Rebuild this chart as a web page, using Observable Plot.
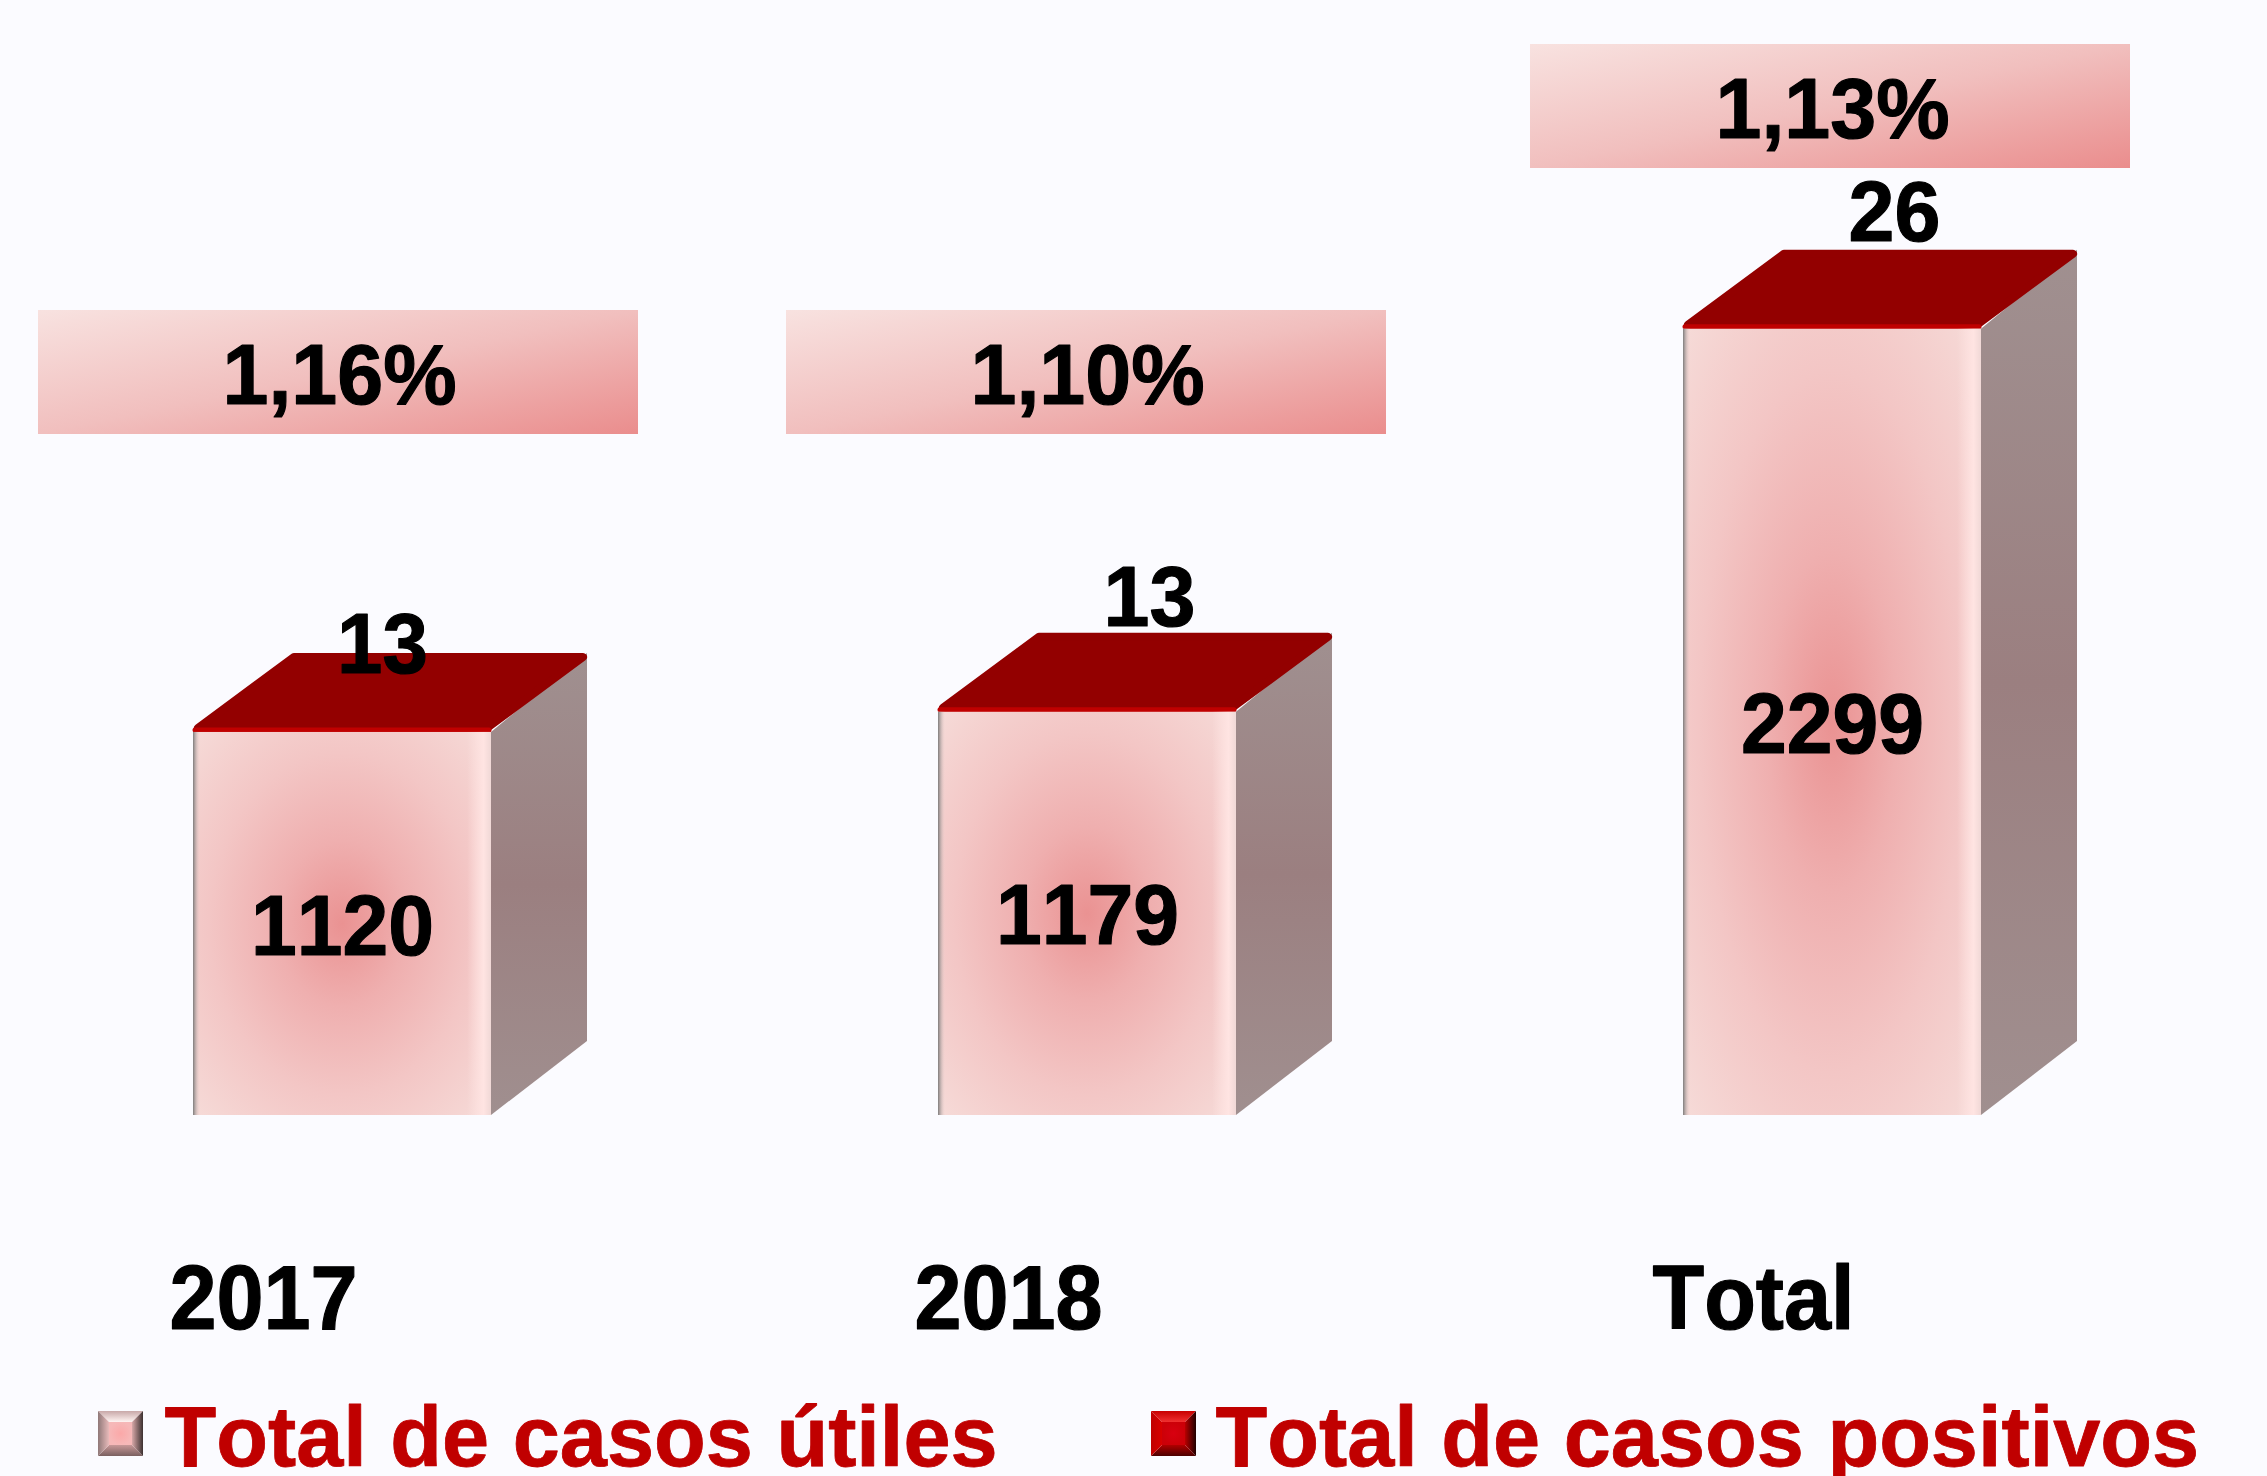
<!DOCTYPE html>
<html lang="es">
<head>
<meta charset="utf-8">
<script src="https://cdn.jsdelivr.net/npm/d3@7"></script>
<script src="https://cdn.jsdelivr.net/npm/@observablehq/plot@0.6"></script>
<style>
  html, body { margin: 0; padding: 0; background: #fbfbff; }
  svg { display: block; }
</style>
</head>
<body>
<script>
// ---- data ----
const categories = ["2017", "2018", "Total"];
const usefulCases = [1120, 1179, 2299];
const positiveCases = [13, 13, 26];
const rateLabels = ["1,16%", "1,10%", "1,13%"];
const legendLabels = ["Total de casos útiles", "Total de casos positivos"];

const table = categories.map((category, i) => ({
  category,
  useful: usefulCases[i],
  positive: positiveCases[i],
  rate: rateLabels[i],
  index: i
}));

// ---- layout ----
const W = 2267, H = 1476, baseline = 1115;
const yMax = baseline / 0.342;
const depthX = 96, depthY = 79, depthYBottom = 74;
const rateBoxY = {"2017": 372, "2018": 372, "Total": 106};
const rateBoxDx = {"2017": -4, "2018": -1, "Total": -2};
const rateTextDx = {"2017": -3, "2018": 0, "Total": 0};
const positiveBaseline = {"2017": 672, "2018": 625, "Total": 240};
const yAt = px => (baseline - px) * yMax / baseline;
const font = "'Liberation Sans', Arial, sans-serif";

// stretch text horizontally about its anchor
const squeeze = sx => (index, scales, values, dimensions, context, next) => {
  const g = next(index, scales, values, dimensions, context);
  d3.select(g).selectAll("text").attr("transform", function () {
    return `${this.getAttribute("transform") || ""} scale(${sx},1)`;
  }).style("font-kerning", "none");
  return g;
};

const lin = (id, x1, y1, x2, y2, a, b) =>
  `<linearGradient id="${id}" x1="${x1}" y1="${y1}" x2="${x2}" y2="${y2}"><stop offset="0" stop-color="${a}"/><stop offset="1" stop-color="${b}"/></linearGradient>`;

const defs = () => {
  const d = d3.create("svg:defs");
  d.html(`
    <radialGradient id="front" cx="0.5" cy="0.5" r="0.72">
      <stop offset="0" stop-color="#ea9292"/>
      <stop offset="0.3" stop-color="#efafaf"/>
      <stop offset="0.62" stop-color="#f3c6c5"/>
      <stop offset="1" stop-color="#f6dcd9"/>
    </radialGradient>
    <linearGradient id="edges" x1="0" x2="1" y1="0" y2="0">
      <stop offset="0" stop-color="#777" stop-opacity="0.95"/>
      <stop offset="0.025" stop-color="#f6dcd9" stop-opacity="0"/>
      <stop offset="0.92" stop-color="#ffe4e2" stop-opacity="0"/>
      <stop offset="0.975" stop-color="#ffe4e2" stop-opacity="1"/>
      <stop offset="1" stop-color="#f0d8d6" stop-opacity="1"/>
    </linearGradient>
    <linearGradient id="side" x1="0" x2="0" y1="0" y2="1">
      <stop offset="0" stop-color="#a09090"/>
      <stop offset="0.5" stop-color="#9b7f80"/>
      <stop offset="1" stop-color="#a08f8f"/>
    </linearGradient>
    <linearGradient id="box" x1="0" x2="1" y1="0" y2="1">
      <stop offset="0" stop-color="#f8e2e0"/>
      <stop offset="0.5" stop-color="#f1bfbe"/>
      <stop offset="1" stop-color="#ea8d8d"/>
    </linearGradient>
    ${lin("pt", 0, 0, 0, 1, "#c8a8a8", "#fff4f2")}
    ${lin("pb", 0, 0, 0, 1, "#c89898", "#7a6060")}
    ${lin("pl", 0, 0, 1, 0, "#8f7878", "#e8baba")}
    ${lin("pr", 0, 0, 1, 0, "#d8a8a8", "#3c3030")}
    <radialGradient id="pc"><stop offset="0" stop-color="#fba8a8"/><stop offset="1" stop-color="#f6b8b8"/></radialGradient>
    ${lin("rt", 0, 0, 0, 1, "#c80000", "#f03030")}
    ${lin("rb", 0, 0, 0, 1, "#b00000", "#4c0000")}
    ${lin("rl", 0, 0, 1, 0, "#c00000", "#d80000")}
    ${lin("rr", 0, 0, 1, 0, "#b80000", "#200000")}
    <radialGradient id="rc"><stop offset="0" stop-color="#d80010"/><stop offset="1" stop-color="#cc0008"/></radialGradient>`);
  return d.node();
};

// side and top faces of each block, placed through the chart's own scales
const blocks = (index, {x, y}) => {
  const g = d3.create("svg:g");
  const w = x.bandwidth();
  for (const d of table) {
    const x0 = x(d.category), x1 = x0 + w, top = y(d.useful), base = y(0);
    g.append("path")
      .attr("fill", "url(#side)")
      .attr("d", `M${x1},${top}L${x1 + depthX},${top - depthY}L${x1 + depthX},${base - depthYBottom}L${x1},${base}Z`);
    g.append("path")
      .attr("fill", "#930000").attr("stroke", "#930000").attr("stroke-width", 8).attr("stroke-linejoin", "round")
      .attr("d", `M${x0 + 5},${top - 4}L${x1 - 4},${top - 4}L${x1 + depthX - 4},${top - depthY + 4}L${x0 + depthX + 5},${top - depthY + 4}Z`);
    g.append("path")
      .attr("fill", "none").attr("stroke", "#c00000").attr("stroke-width", 5).attr("stroke-linecap", "round")
      .attr("d", `M${x0 + 2},${top - 2}L${x1 - 2},${top - 2}`);
  }
  return g.node();
};

const edges = (index, {x, y}) => {
  const g = d3.create("svg:g");
  for (const d of table) {
    g.append("rect").attr("fill", "url(#edges)")
      .attr("x", x(d.category)).attr("width", x.bandwidth())
      .attr("y", y(d.useful)).attr("height", y(0) - y(d.useful));
  }
  return g.node();
};

const rateBoxes = (index, {x, y}) => {
  const g = d3.create("svg:g");
  const w = x.bandwidth();
  for (const d of table) {
    g.append("rect").attr("fill", "url(#box)")
      .attr("x", x(d.category) + w / 2 + rateBoxDx[d.category] - 300).attr("width", 600)
      .attr("y", rateBoxY[d.category] - 62).attr("height", 124);
  }
  return g.node();
};

const swatch = (left, top, p) => () => {
  const g = d3.create("svg:g").attr("transform", `translate(${left},${top})`);
  const s = 45, b = 11;
  const face = (pts, fill) => g.append("polygon").attr("points", pts).attr("fill", `url(#${p}${fill})`);
  face(`0,0 ${s},0 ${s - b},${b} ${b},${b}`, "t");
  face(`0,${s} ${s},${s} ${s - b},${s - b} ${b},${s - b}`, "b");
  face(`0,0 ${b},${b} ${b},${s - b} 0,${s}`, "l");
  face(`${s},0 ${s - b},${b} ${s - b},${s - b} ${s},${s}`, "r");
  g.append("rect").attr("x", b).attr("y", b).attr("width", s - 2 * b).attr("height", s - 2 * b).attr("fill", `url(#${p}c)`);
  return g.node();
};

const label = {fontWeight: 700, fill: "#000", stroke: "#000", strokeWidth: 1.2};

const chart = Plot.plot({
  width: W,
  height: H,
  margin: 0,
  style: {background: "#fbfbff", fontFamily: font, overflow: "visible"},
  x: {type: "band", domain: categories, range: [193, 1981], paddingInner: 0.6, paddingOuter: 0, axis: null, align: 0},
  y: {domain: [0, yMax], range: [baseline, 0], axis: null},
  marks: [
    defs,
    rateBoxes,
    blocks,
    Plot.barY(table, {x: "category", y: "useful", fill: "url(#front)"}),
    edges,
    Plot.text(table, {x: "category", y: d => d.useful / 2, text: d => String(d.useful), dy: 3,
      fontSize: 86, ...label, lineAnchor: "middle", render: squeeze(0.957)}),
    Plot.text(table.filter(d => d.index === 0), {x: "category", y: d => yAt(positiveBaseline[d.category]), text: d => String(d.positive), dx: 40,
      fontSize: 86, ...label, lineAnchor: "bottom", render: squeeze(0.95)}),
    Plot.text(table.filter(d => d.index > 0), {x: "category", y: d => yAt(positiveBaseline[d.category]), text: d => String(d.positive), dx: 62,
      fontSize: 86, ...label, lineAnchor: "bottom", render: squeeze(0.96)}),
    ...table.map(d => Plot.text([d], {x: "category", y: e => yAt(rateBoxY[e.category] + 4), text: "rate", dx: rateTextDx[d.category],
      fontSize: 86, ...label, lineAnchor: "middle", render: squeeze(0.96)})),
    Plot.text(table, {x: "category", y: () => yAt(1300), text: "category", dx: -79,
      fontSize: 90, ...label, lineAnchor: "middle", render: squeeze(0.94)}),
    swatch(98, 1411, "p"),
    swatch(1151, 1411, "r"),
    Plot.text([legendLabels[0]], {text: d => d, frameAnchor: "bottom-left", dx: 164, dy: -11, lineAnchor: "bottom",
      fontSize: 86, fontWeight: 700, fill: "#c00000", stroke: "#c00000", strokeWidth: 0.8, render: squeeze(0.985)}),
    Plot.text([legendLabels[1]], {text: d => d, frameAnchor: "bottom-left", dx: 1215, dy: -11, lineAnchor: "bottom",
      fontSize: 86, fontWeight: 700, fill: "#c00000", stroke: "#c00000", strokeWidth: 0.8, render: squeeze(0.985)})
  ]
});
document.body.appendChild(chart);
</script>
</body>
</html>
